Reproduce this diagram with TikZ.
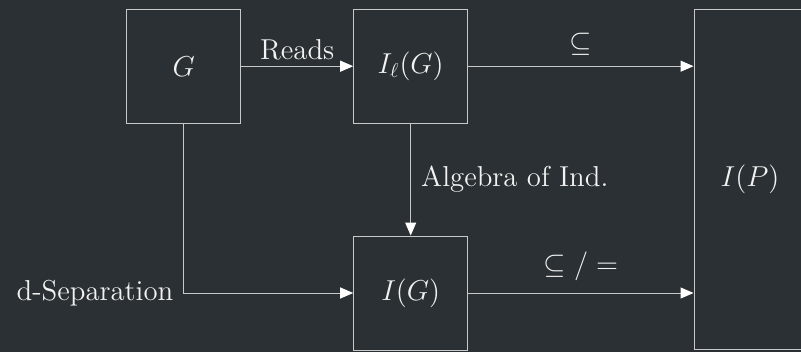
\documentclass[tikz,border=0pt]{standalone}
\usetikzlibrary{arrows.meta}
\definecolor{bgc}{HTML}{2A3033}
\definecolor{linec}{HTML}{C8C8C8}
\definecolor{textc}{HTML}{F2F2F2}
\begin{document}
\begin{tikzpicture}[x=0.5pt,y=-0.5pt,
  every node/.style={text=textc,font=\fontsize{14.4}{17}\selectfont},
  boxnode/.style={draw=linec,line width=0.5pt,minimum width=57pt,minimum height=57pt,inner sep=0pt},
  conn/.style={draw=linec,line width=0.5pt,-{Triangle[length=6.5pt,width=5.5pt,fill=white,color=white]}},
  lbl/.style={inner sep=2pt}]
\fill[bgc] (0,0) rectangle (801,352);
\useasboundingbox (0,0) rectangle (801,352);
\node[boxnode] (G) at (183.7,66.2) {$G$};
\node[boxnode] (IL) at (410.7,66.2) {$I_\ell(G)$};
\node[boxnode] (IG) at (410.7,293) {$I(G)$};
\node[boxnode,minimum width=56pt,minimum height=170pt] (IP) at (750,179.3) {$I(P)$};
\coordinate (corner) at (183.7,293);
\draw[conn] (G) -- node[lbl,above=1pt] {Reads} (IL);
\draw[conn] (IL) -- node[lbl,above=3pt] {$\subseteq$} (IL.east -| IP.west);
\draw[conn] (IL) -- node[lbl,right=3pt] {Algebra of Ind.} (IG);
\draw[conn] (IG) -- node[lbl,above=4pt] {$\subseteq/=$} (IG.east -| IP.west);
\draw[conn] (G.south) -- (corner) -- (IG.west);
\node[lbl,left=3pt] (dsep) at (corner) {d-Separation};
\end{tikzpicture}
\end{document}
